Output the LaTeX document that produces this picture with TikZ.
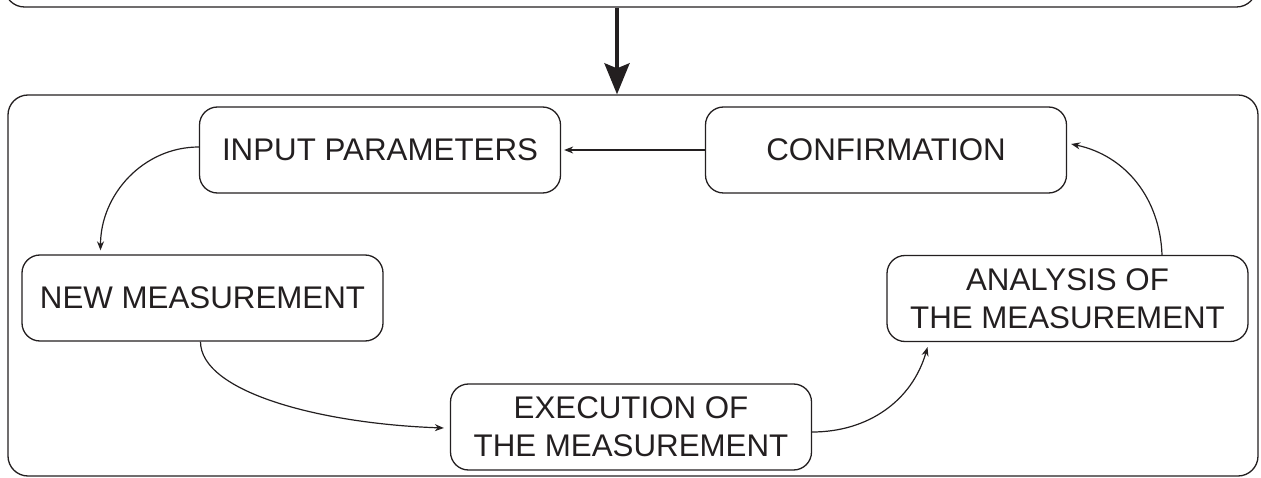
\documentclass[tikz,border=0pt]{standalone}
\usepackage{fontspec}
\setmainfont{Liberation Sans}
\usetikzlibrary{arrows.meta}
\definecolor{ink}{HTML}{231F20}
\tikzset{
  stepbox/.style={draw=ink, line width=1.3pt, rounded corners=18pt, minimum width=361pt, minimum height=86pt, align=center, inner sep=0pt, text=ink, font=\fontsize{31.3}{38}\selectfont},
  container/.style={draw=ink, line width=1.3pt, rounded corners=20pt, inner sep=0pt},
  arr/.style={draw=ink, line width=1.2pt, -{Stealth[length=9pt,width=7pt]}},
  bigarr/.style={draw=ink, line width=4pt, -{Stealth[length=31pt,width=25pt,inset=5pt]}}
}
\begin{document}
\begin{tikzpicture}[x=1pt,y=-1pt]
\useasboundingbox (0,0) rectangle (1261,478);
\clip (0,0) rectangle (1261,478);
% containers
\node[container, minimum width=1252pt, minimum height=100pt] (top) at (630.5,-43) {};
\node[container, minimum width=1250pt, minimum height=381pt] (bot) at (633,285.5) {};
\draw[bigarr] (top.south -| 617,0) -- (bot.north -| 617,0);
% steps
\node[stepbox] (inp) at (380,150) {INPUT PARAMETERS};
\node[stepbox] (conf) at (886,150) {CONFIRMATION};
\node[stepbox] (new) at (202.5,298) {NEW MEASUREMENT};
\node[stepbox] (ana) at (1067.5,298.5) {ANALYSIS OF\\THE MEASUREMENT};
\node[stepbox] (exe) at (631,427) {EXECUTION OF\\THE MEASUREMENT};
% connectors
\draw[arr, shorten >=3pt] (conf.west) -- (inp.east);
\draw[arr] ([yshift=3pt]inp.west) to[out=180,in=90] ([xshift=-102pt,yshift=4pt]new.north);
\draw[arr] ([xshift=-2pt]new.south) to[out=-90,in=178,out distance=50pt,in distance=125pt] ([xshift=-6pt,yshift=-1pt]exe.west);
\draw[arr] ([yshift=-5pt]exe.east) to[out=0,in=-106] ([xshift=-140pt,yshift=-5pt]ana.south);
\draw[arr] ([xshift=94.5pt]ana.north) to[out=92,in=-12] ([xshift=4pt,yshift=6pt]conf.east);
\end{tikzpicture}
\end{document}
